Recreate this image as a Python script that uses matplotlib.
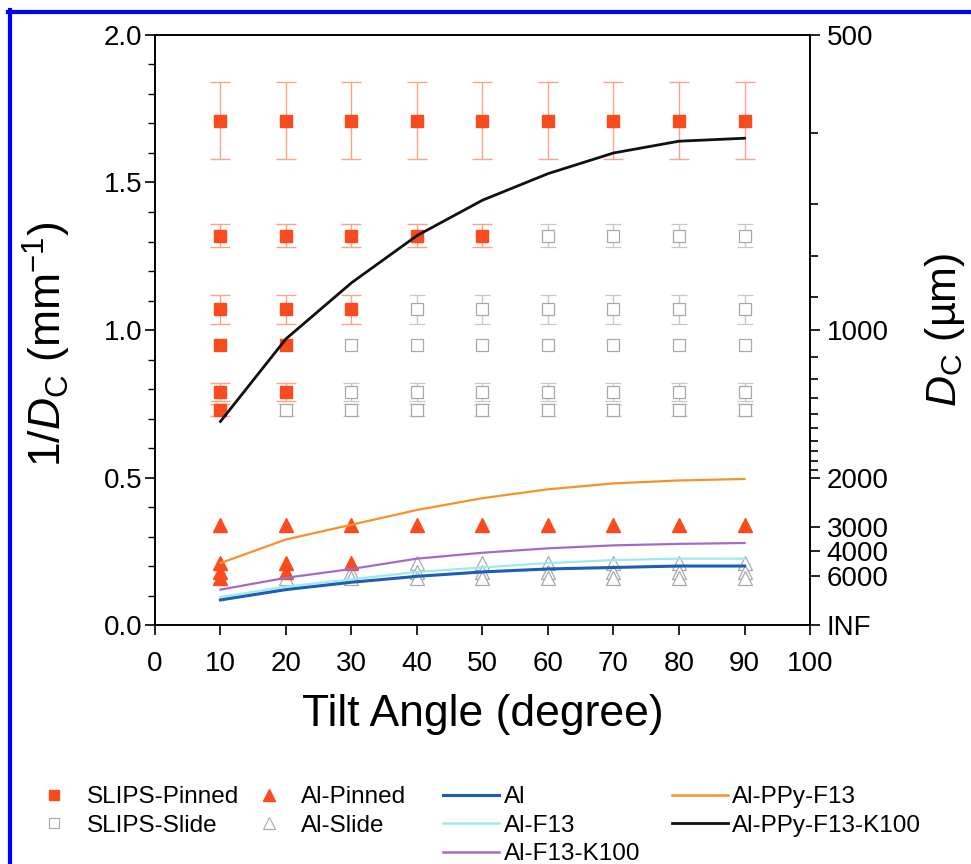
import numpy as np
import matplotlib
matplotlib.use("Agg")
import matplotlib.pyplot as plt
from matplotlib.lines import Line2D

plt.rcParams['font.family'] = ['Liberation Sans', 'DejaVu Sans']
plt.rcParams['mathtext.fontset'] = 'custom'
plt.rcParams['mathtext.rm'] = 'Liberation Sans'
plt.rcParams['mathtext.it'] = 'Liberation Sans:italic'

# tilt angles (degree)
angles = np.array([10, 20, 30, 40, 50, 60, 70, 80, 90])

# SLIPS drops: 1/Dc levels, error, largest angle at which the drop stays pinned
slips_levels = [1.71, 1.32, 1.07, 0.95, 0.79, 0.73]
slips_err = [0.13, 0.04, 0.05, 0.0, 0.03, 0.02]
slips_pinned_max = [90, 50, 30, 20, 20, 10]

# Al drops
al_levels = [0.34, 0.21, 0.18, 0.16]
al_pinned_max = [90, 30, 20, 10]

# model curves
curve_names = ['Al', 'Al-F13', 'Al-F13-K100', 'Al-PPy-F13', 'Al-PPy-F13-K100']
curve_al = [0.085, 0.12, 0.145, 0.165, 0.18, 0.19, 0.195, 0.20, 0.20]
curve_al_f13 = [0.095, 0.13, 0.155, 0.18, 0.195, 0.21, 0.22, 0.225, 0.225]
curve_al_f13_k100 = [0.12, 0.16, 0.19, 0.225, 0.245, 0.26, 0.27, 0.275, 0.278]
curve_ppy_f13 = [0.21, 0.29, 0.34, 0.39, 0.43, 0.46, 0.48, 0.49, 0.495]
curve_ppy_f13_k100 = [0.69, 0.97, 1.16, 1.32, 1.44, 1.53, 1.60, 1.64, 1.65]

# right axis (Dc in um)
dc_major = [500, 1000, 2000, 3000, 4000, 6000]
dc_minor = [600, 700, 800, 900, 1100, 1200, 1300, 1400, 1500, 1600, 1700, 1800, 1900]

red = '#F94B1E'
red_err = '#F8A48A'
gray = '#A8A8A8'
gray_err = '#C8C8C8'

fig = plt.figure(figsize=(9.71, 8.64), dpi=100)
ax = fig.add_axes([0.1596, 0.2766, 0.6746, 0.6829])

# squares
for lev, err, pmax in zip(slips_levels, slips_err, slips_pinned_max):
    pin = angles <= pmax
    yv = np.full(len(angles), lev)
    if (~pin).any():
        ax.errorbar(angles[~pin], yv[~pin], yerr=err if err > 0 else None,
                    fmt='s', ms=8, mfc='white', mec=gray, mew=0.9,
                    ecolor=gray_err, elinewidth=1, capsize=6, capthick=1, zorder=3)
    ax.errorbar(angles[pin], yv[pin], yerr=err if err > 0 else None,
                fmt='s', ms=9, mfc=red, mec=red, ecolor=red_err,
                elinewidth=1, capsize=7, capthick=1, zorder=4)

# triangles
for lev, pmax in zip(al_levels, al_pinned_max):
    pin = angles <= pmax
    yv = np.full(len(angles), lev)
    ax.plot(angles[~pin], yv[~pin], '^', ms=10, mfc='white', mec=gray, mew=0.9, zorder=3)
    ax.plot(angles[pin], yv[pin], '^', ms=10.5, mfc=red, mec=red, zorder=4)

ax.plot(angles, curve_al_f13, color='#9EEAEA', lw=1.6, zorder=5)
ax.plot(angles, curve_al, color='#1C5DB5', lw=2.2, zorder=5)
ax.plot(angles, curve_al_f13_k100, color='#A36BC9', lw=1.6, zorder=5)
ax.plot(angles, curve_ppy_f13, color='#F7922A', lw=1.6, zorder=5)
ax.plot(angles, curve_ppy_f13_k100, color='#111111', lw=2.0, zorder=5)

ax.set_xlim(0, 100)
ax.set_ylim(0, 2.0)
ax.set_xticks(np.arange(0, 101, 10))
ax.set_yticks([0.0, 0.5, 1.0, 1.5, 2.0])
ax.set_yticklabels(['0.0', '0.5', '1.0', '1.5', '2.0'])
ax.set_yticks(np.arange(0, 2.01, 0.1), minor=True)
ax.tick_params(axis='x', direction='out', length=7, width=1.2, labelsize=20, pad=12, top=False)
ax.tick_params(axis='y', which='major', direction='out', length=7, width=1.2, labelsize=20, pad=2)
ax.tick_params(axis='y', which='minor', direction='out', length=5, width=1.0)
for s in ax.spines.values():
    s.set_linewidth(1.2)

ax.set_xlabel('Tilt Angle (degree)', fontsize=32, labelpad=12)
ax.set_ylabel(r'1/$D_\mathrm{C}$ (mm$^{-1}$)', fontsize=32)
ax.yaxis.set_label_coords(-0.125, 0.475)

ax2 = ax.twinx()
ax2.set_ylim(0, 2.0)
ax2.set_yticks([1000.0 / d for d in dc_major] + [0.0])
ax2.set_yticklabels([str(d) for d in dc_major] + ['INF'])
ax2.set_yticks([1000.0 / d for d in dc_minor], minor=True)
ax2.tick_params(axis='y', which='major', direction='out', length=7, width=1.2, labelsize=20, pad=5)
ax2.tick_params(axis='y', which='minor', direction='out', length=6, width=1.2)
for s in ax2.spines.values():
    s.set_linewidth(1.2)
ax2.set_ylabel(r'$D_\mathrm{C}$ (µm)', fontsize=31)
ax2.yaxis.set_label_coords(1.172, 0.5)

# legends
mk_handles = [
    Line2D([], [], ls='none', marker='s', ms=7, mfc=red, mec=red),
    Line2D([], [], ls='none', marker='s', ms=7, mfc='white', mec=gray, mew=0.8),
    Line2D([], [], ls='none', marker='^', ms=8, mfc=red, mec=red),
    Line2D([], [], ls='none', marker='^', ms=8, mfc='white', mec=gray, mew=0.8),
]
mk_labels = ['SLIPS-Pinned', 'SLIPS-Slide', 'Al-Pinned', 'Al-Slide']
leg1 = fig.legend(mk_handles, mk_labels, ncol=2, loc='upper left',
                  bbox_to_anchor=(0.041, 0.090), frameon=False, fontsize=17.5,
                  handlelength=1.2, handletextpad=0.75, columnspacing=0.6,
                  labelspacing=0.27, borderpad=0, borderaxespad=0)

ln_handles = [
    Line2D([], [], color='#1C5DB5', lw=2.2),
    Line2D([], [], color='#9EEAEA', lw=1.8),
    Line2D([], [], color='#A36BC9', lw=1.8),
    Line2D([], [], color='#F7922A', lw=1.8),
    Line2D([], [], color='#111111', lw=2.0),
]
leg2 = fig.legend(ln_handles, curve_names, ncol=2, loc='upper left',
                  bbox_to_anchor=(0.456, 0.090), frameon=False, fontsize=17.5,
                  handlelength=2.3, handletextpad=0.2, columnspacing=1.3,
                  labelspacing=0.27, borderpad=0, borderaxespad=0)

# blue frame of the source picture
fig.add_artist(Line2D([8 / 971, 1.0], [1 - 12 / 864, 1 - 12 / 864], color='#0000FF', lw=3,
                      transform=fig.transFigure))
fig.add_artist(Line2D([10 / 971, 10 / 971], [0.0, 1 - 10 / 864], color='#0000FF', lw=3,
                      transform=fig.transFigure))

fig.savefig('out.png', dpi=100)
